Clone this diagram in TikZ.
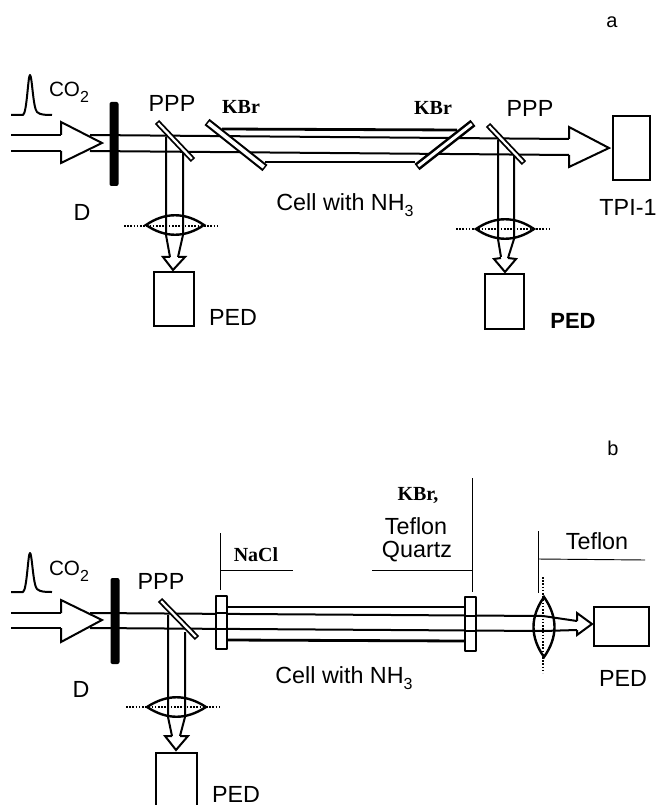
\documentclass[tikz,border=0pt]{standalone}
\usepackage{fontspec}
\setmainfont{Liberation Sans}
\newfontfamily\serifface{Liberation Serif}
\newcommand{\plate}[4]{% a, b, outer, inner (pt)
  \draw[black,line width=#3pt] (#1) -- (#2);
  \draw[white,line width=#4pt,shorten <=1.2pt,shorten >=1.2pt] (#1) -- (#2);}
\newcommand{\lowered}[1]{\raisebox{-0.28em}{\fontsize{12pt}{12pt}\selectfont #1}}
\tikzset{
  x=0.75pt,y=-0.75pt,
  ln/.style={line width=1.5pt,line join=round},
  lensline/.style={line width=1.8pt,line join=miter},
  thick wall/.style={line width=2.1pt},
  thin ln/.style={line width=0.7pt},
  beam head/.style={line width=1.5pt,line join=miter,fill=white},
  dots/.style={line width=0.9pt,dash pattern=on 1.2pt off 1.2pt},
  stop/.style={fill=black,rounded corners=1.5pt},
  box/.style={draw,line width=1.6pt,fill=white,anchor=north west,inner sep=0pt},
  lab/.style={font=\fontsize{17.5pt}{20pt}\selectfont,inner sep=0pt,text=black},
  letter/.style={font=\fontsize{15pt}{17pt}\selectfont,inner sep=0pt,text=black},
  gaslab/.style={font=\fontsize{15.5pt}{17pt}\selectfont,inner sep=0pt,text=black},
  serlab/.style={font=\serifface\bfseries\fontsize{15pt}{17pt}\selectfont,inner sep=0pt,text=black}
}
\begin{document}
\begin{tikzpicture}
\clip (0,0) rectangle (659,805);
\fill[white] (0,0) rectangle (659,805);

% ---------- Part a ----------
\node[letter] (la) at (612,22) {a};
\draw[ln] (11,115) -- (23,115) .. controls (27,113) and (28,75) .. (30,75)
  .. controls (32,75) and (33,108) .. (37,112) .. controls (40,115) and (46,115) .. (52,115);
\node[gaslab] (co2a) at (69,92) {CO\lowered{2}};
\node[lab] (da) at (82,212) {D};
\node[lab] (pa1) at (172,103) {PPP};
\node[serlab] (ka1) at (241,107) {KBr};
\node[serlab] (ka2) at (433,108) {KBr};
\node[lab] (pa2) at (530,108) {PPP};
\node[lab] (cella) at (345,205) {Cell with NH\lowered{3}};
\node[box,minimum width=27.75pt,minimum height=48pt] (tpi) at (612,115) {};
\node[lab,anchor=center] (tpil) at (628,207) {TPI-1};
\node[box,minimum width=30pt,minimum height=40.5pt] (peda1) at (153,271) {};
\node[lab] (peda1l) at (233,317) {PED};
\node[box,minimum width=29.25pt,minimum height=41.25pt] (peda2) at (484,273) {};
\node[lab,font=\bfseries\fontsize{16.5pt}{20pt}\selectfont] (peda2l) at (573,321) {PED};

% beam
\draw[ln] (11,135) -- (61,135);
\draw[ln] (11,151) -- (61,151);
\draw[ln] (90,135) -- (569,139);
\draw[ln] (90,151) -- (569,155);
\draw[beam head] (61,135) -- (61,122) -- (102,143) -- (61,163) -- (61,151);
\draw[beam head] (569,139) -- (569,127) -- (609,148) -- (569,167) -- (569,155);
\fill[stop] (109.5,102) rectangle (118.5,186);
% cell walls
\draw[thick wall] (222,129) -- (457,130);
\draw[thick wall] (265,162) -- (415,162);
\plate{207,122}{265,168}{6}{2.8}
\plate{473,123}{417,167}{6}{2.2}
% branch 1
\draw[ln] (166,137) -- (166,235) -- (170,257);
\draw[ln] (183,153) -- (183,235) -- (178,257);
\draw[beam head,fill=none] (170,257) -- (163,257) -- (173,270) -- (185,257) -- (178,257);
\plate{157,122}{193,160}{4.4}{1.7}
\draw[lensline] (146,225) .. controls (165,212) and (185,212) .. (204,225) .. controls (185,238) and (165,238) .. cycle;
\draw[dots] (124,226) -- (219,226);
% branch 2
\draw[ln] (498,140) -- (498,239) -- (501,257);
\draw[ln] (514,156) -- (514,239) -- (508,258);
\draw[beam head,fill=none] (501,258) -- (494,259) -- (505,272) -- (516,259) -- (508,258);
\plate{488,125}{524,163}{4.4}{1.7}
\draw[lensline] (476,229) .. controls (495,216) and (515,216) .. (534,229) .. controls (515,242) and (495,242) .. cycle;
\draw[dots] (456,229) -- (549,229);

% ---------- Part b ----------
\node[letter] (lb) at (613,448) {b};
\draw[ln] (11,592) -- (23,592) .. controls (27,590) and (28,553) .. (30,553)
  .. controls (32,553) and (33,585) .. (37,589) .. controls (40,592) and (46,592) .. (52,592);
\node[gaslab] (co2b) at (69,571) {CO\lowered{2}};
\node[lab] (db) at (81,689) {D};
\node[lab] (pb) at (161,581) {PPP};
\node[serlab] (nacl) at (256,555) {NaCl};
\node[serlab] (kbrb) at (418,495) {KBr,};
\node[lab] (tefa) at (416,526) {Teflon};
\node[lab] (quartz) at (417,552) {Quartz};
\node[lab] (tefb) at (597,541) {Teflon};
\node[lab] (cellb) at (344,678) {Cell with NH\lowered{3}};
\node[box,minimum width=41.25pt,minimum height=29.25pt] (pedb2) at (593,606) {};
\node[lab] (pedb2l) at (623,678) {PED};
\node[box,minimum width=30.75pt,minimum height=60pt] (pedb1) at (155,752) {};
\node[lab] (pedb1l) at (236,794) {PED};

% beam
\draw[ln] (11,613) -- (61,613);
\draw[ln] (11,628) -- (61,628);
\draw[ln] (90,613) -- (543,616) -- (577,621);
\draw[ln] (90,628) -- (543,631) -- (577,630);
\draw[beam head] (61,613) -- (61,600) -- (102,620) -- (61,642) -- (61,628);
\draw[beam head,fill=none] (577,621) -- (577,613) -- (592,624) -- (577,635) -- (577,630);
\fill[stop] (110.5,578) rectangle (119.5,664);
% cell
\draw[thick wall] (227,607) -- (465,607);
\draw[thick wall] (227,640) -- (465,641);
\draw[ln,fill=white] (216,596) rectangle (227,649);
\draw[ln] (216,613) -- (227,613) (216,628.5) -- (227,628.5);
\draw[ln,fill=white] (465,597) rectangle (476,651);
\draw[ln] (465,616) -- (476,616) (465,631) -- (476,631);
% leaders
\draw[thin ln] (220,533) -- (220,590);
\draw[thin ln] (220,570) -- (293,570);
\draw[thin ln] (472,478) -- (472,592);
\draw[thin ln] (372,570) -- (472,570);
\draw[thin ln] (538,531) -- (538,593);
\draw[thin ln] (538,559) -- (645,560);
% branch
\draw[ln] (168,615) -- (168,717) -- (172,736);
\draw[ln] (185,632) -- (185,717) -- (180,736);
\draw[beam head,fill=none] (172,736) -- (165,736) -- (176,750) -- (188,736) -- (180,736);
\plate{160,600}{197,638}{4.4}{1.7}
\draw[lensline] (147,707) .. controls (167,694) and (186,694) .. (206,707) .. controls (186,720) and (167,720) .. cycle;
\draw[dots] (126,707) -- (221,707);
% right lens
\draw[lensline] (544,597) .. controls (558,617) and (558,637) .. (544,657) .. controls (530,637) and (530,617) .. cycle;
\draw[dots] (543,577) -- (543,673);
\end{tikzpicture}
\end{document}
